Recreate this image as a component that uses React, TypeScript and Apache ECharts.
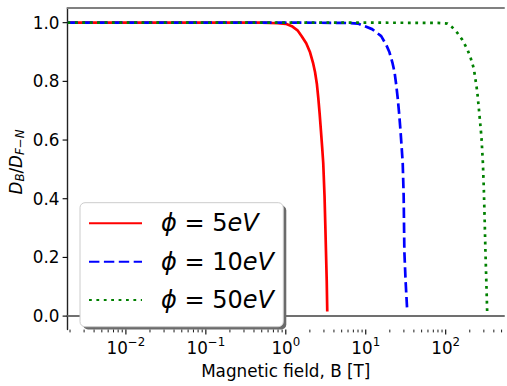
import React, { useEffect, useRef } from "react";
import * as echarts from "echarts";

// ---- data ----
const B_5EV = [0.00186, 0.1, 0.5, 0.8, 1.0, 1.19, 1.4, 1.58, 1.8, 2.01, 2.2, 2.32, 2.45, 2.55, 2.65, 2.75, 2.85, 2.94, 3.05, 3.12, 3.18, 3.25, 3.3];
const D_5EV = [1.0, 1.0, 1.0, 0.998, 0.996, 0.988, 0.974, 0.954, 0.93, 0.899, 0.861, 0.832, 0.79, 0.743, 0.69, 0.632, 0.575, 0.521, 0.41, 0.31, 0.221, 0.12, 0.016];

const B_10EV = [0.00186, 1, 5, 8, 9.7, 12, 15.6, 18, 19.8, 21.5, 22.9, 24, 25.1, 26.2, 27.2, 28.1, 29.0, 29.8, 30.4, 31.5, 33.0];
const D_10EV = [1.0, 1.0, 0.9995, 0.997, 0.988, 0.978, 0.954, 0.925, 0.899, 0.865, 0.832, 0.79, 0.743, 0.688, 0.632, 0.577, 0.521, 0.41, 0.221, 0.12, 0.018];

const B_50EV = [0.00186, 10, 50, 80, 105, 120, 140, 160, 186, 205, 225, 248, 264, 280, 292, 300, 307, 314, 322, 330];
const D_50EV = [1.0, 1.0, 0.9995, 0.999, 0.997, 0.985, 0.965, 0.943, 0.91, 0.88, 0.843, 0.765, 0.687, 0.61, 0.521, 0.432, 0.33, 0.221, 0.12, 0.016];

const SERIES_NAMES = ["ϕ = 5eV", "ϕ = 10eV", "ϕ = 50eV"];
const PHI_LABELS = ["5", "10", "50"];

const X_MAJOR_TICKS = [0.01, 0.1, 1, 10, 100];
const X_MINOR_TICKS = [
  0.002, 0.003, 0.004, 0.005, 0.006, 0.007, 0.008, 0.009,
  0.02, 0.03, 0.04, 0.05, 0.06, 0.07, 0.08, 0.09,
  0.2, 0.3, 0.4, 0.5, 0.6, 0.7, 0.8, 0.9,
  2, 3, 4, 5, 6, 7, 8, 9,
  20, 30, 40, 50, 60, 70, 80, 90,
  200, 300, 400, 500,
];
const Y_TICKS = [0, 0.2, 0.4, 0.6, 0.8, 1.0];

const XMIN = 0.00186;
const XMAX = 536;
const YMIN = -0.046;
const YMAX = 1.05;

// ---- layout ----
const W = 507;
const H = 386;
const FONT = "DejaVu Sans";
const FS = 16.8;
const LEG_FS = 24;

function buildOption() {
  const pairs = (bs: number[], ds: number[]) => bs.map((b, i) => [b, ds[i]]);
  const tickData: number[][] = [];
  X_MAJOR_TICKS.forEach((v) => tickData.push([v, YMIN, 0]));
  X_MINOR_TICKS.forEach((v) => tickData.push([v, YMIN, 1]));
  Y_TICKS.forEach((v) => tickData.push([XMIN, v, 2]));

  const sup = (e: number) => (e < 0 ? "−" + -e : String(e));

  return {
    animation: false,
    backgroundColor: "#ffffff",
    grid: { left: 67.5, right: 0, top: 8, bottom: 49.3, containLabel: false },
    xAxis: [
      {
        type: "log",
        logBase: 10,
        min: XMIN,
        max: XMAX,
        position: "bottom",
        axisLine: { show: true, lineStyle: { color: "#707070", width: 2 } },
        axisTick: { show: false },
        splitLine: { show: false },
        minorTick: { show: false },
        axisLabel: {
          margin: 6.5,
          formatter: (v: number) => {
            const e = Math.log10(v);
            if (Math.abs(e - Math.round(e)) > 1e-6) return "";
            return "{b|10}{s|" + sup(Math.round(e)) + "}";
          },
          rich: {
            b: { fontFamily: FONT, fontSize: FS, lineHeight: 20, color: "#000", verticalAlign: "bottom" },
            s: { fontFamily: FONT, fontSize: 11.8, lineHeight: 10, color: "#000", verticalAlign: "top" },
          },
        },
        name: "Magnetic field, B [T]",
        nameLocation: "middle",
        nameGap: 28.6,
        nameTextStyle: { fontFamily: FONT, fontSize: FS, color: "#000", lineHeight: 20 },
      },
      {
        type: "log",
        logBase: 10,
        min: XMIN,
        max: XMAX,
        position: "top",
        axisLine: { show: true, lineStyle: { color: "#808080", width: 2 } },
        axisTick: { show: false },
        axisLabel: { show: false },
        splitLine: { show: false },
      },
    ],
    yAxis: {
      type: "value",
      min: YMIN,
      max: YMAX,
      splitNumber: 5,
      axisLine: { show: true, lineStyle: { color: "#222", width: 1.4 } },
      axisTick: { show: false },
      splitLine: { show: false },
      axisLabel: {
        margin: 8,
        fontFamily: FONT,
        fontSize: FS,
        color: "#000",
        formatter: (v: number) => (Math.abs(v * 5 - Math.round(v * 5)) < 1e-6 ? v.toFixed(1) : ""),
      },
    },
    legend: {
      data: SERIES_NAMES,
      orient: "vertical",
      left: 88,
      top: 208.3,
      padding: 0,
      itemWidth: 53,
      itemHeight: 1,
      itemGap: 8.35,
      selectedMode: false,
      z: 10,
      itemStyle: { opacity: 0, borderWidth: 0 },
      formatter: (name: string) => {
        const idx = SERIES_NAMES.indexOf(name);
        return "{g| }{i|ϕ}{r| = " + PHI_LABELS[idx] + "}{i|eV}";
      },
      textStyle: {
        color: "#000",
        fontFamily: FONT,
        fontSize: LEG_FS,
        lineHeight: 30,
        height: 30,
        rich: {
          g: { width: 14, fontSize: LEG_FS, lineHeight: 30, height: 30 },
          i: { fontFamily: FONT, fontStyle: "italic", fontSize: LEG_FS, lineHeight: 30, height: 30, color: "#000" },
          r: { fontFamily: FONT, fontSize: LEG_FS, lineHeight: 30, height: 30, color: "#000" },
        },
      },
    },
    graphic: [
      {
        type: "rect",
        z: 1,
        silent: true,
        shape: { x: 83, y: 205.5, width: 203.3, height: 124, r: 5 },
        style: { fill: "#6b6b6b" },
      },
      {
        type: "rect",
        z: 2,
        silent: true,
        shape: { x: 80, y: 202.7, width: 203.3, height: 124, r: 5 },
        style: { fill: "#ffffff", stroke: "#cccccc", lineWidth: 1 },
      },
      {
        type: "text",
        z: 5,
        silent: true,
        x: 16,
        y: 162,
        rotation: Math.PI / 2,
        style: {
          text: "{i|D}{sb|B}{r|/}{i|D}{sb|F}{sr|−}{sb|N}",
          align: "center",
          verticalAlign: "middle",
          fill: "#000",
          rich: {
            i: { fontFamily: FONT, fontStyle: "italic", fontSize: FS, lineHeight: 20, fill: "#000" },
            r: { fontFamily: FONT, fontSize: FS, lineHeight: 20, fill: "#000" },
            sb: { fontFamily: FONT, fontStyle: "italic", fontSize: 11.8, lineHeight: 11, verticalAlign: "bottom", fill: "#000" },
            sr: { fontFamily: FONT, fontSize: 11.8, lineHeight: 11, verticalAlign: "bottom", fill: "#000" },
          },
        },
      },
    ],
    series: [
      {
        name: SERIES_NAMES[0],
        type: "line",
        data: pairs(B_5EV, D_5EV),
        showSymbol: false,
        symbol: "none",
        silent: true,
        z: 3,
        itemStyle: { color: "#ff0000" },
        lineStyle: { color: "#ff0000", width: 2.7, type: "solid", cap: "butt" },
      },
      {
        name: SERIES_NAMES[1],
        type: "line",
        data: pairs(B_10EV, D_10EV),
        showSymbol: false,
        symbol: "none",
        silent: true,
        z: 3,
        itemStyle: { color: "#0000ff" },
        lineStyle: { color: "#0000ff", width: 2.7, type: [10.4, 4.5], cap: "butt" },
      },
      {
        name: SERIES_NAMES[2],
        type: "line",
        data: pairs(B_50EV, D_50EV),
        showSymbol: false,
        symbol: "none",
        silent: true,
        z: 3,
        itemStyle: { color: "#008000" },
        lineStyle: { color: "#008000", width: 2.7, type: [2.8, 4.6], cap: "butt" },
      },
      {
        name: "ticks",
        type: "custom",
        coordinateSystem: "cartesian2d",
        silent: true,
        clip: false,
        z: 6,
        encode: { x: 0, y: 1 },
        data: tickData,
        renderItem: (params: any, api: any) => {
          const kind = api.value(2);
          if (kind === 2) {
            const p = api.coord([XMIN, api.value(1)]);
            return {
              type: "line",
              shape: { x1: p[0] - 4.9, y1: p[1], x2: p[0], y2: p[1] },
              style: { stroke: "#000", lineWidth: 1.1 },
            };
          }
          const p = api.coord([api.value(0), YMIN]);
          const len = kind === 0 ? 4.9 : 2.8;
          return {
            type: "line",
            shape: { x1: p[0], y1: p[1], x2: p[0], y2: p[1] + len },
            style: { stroke: "#000", lineWidth: kind === 0 ? 1.1 : 0.9 },
          };
        },
      },
    ],
  };
}

export default function App() {
  const ref = useRef<HTMLDivElement>(null);
  useEffect(() => {
    if (!ref.current) return;
    const chart = echarts.init(ref.current, null, { renderer: "svg", width: W, height: H });
    chart.setOption(buildOption() as any);
    return () => chart.dispose();
  }, []);
  return (
    <div
      ref={ref}
      style={{
        position: "absolute",
        left: 0,
        top: 0,
        width: W,
        height: H,
        background: "#ffffff",
      }}
    />
  );
}
